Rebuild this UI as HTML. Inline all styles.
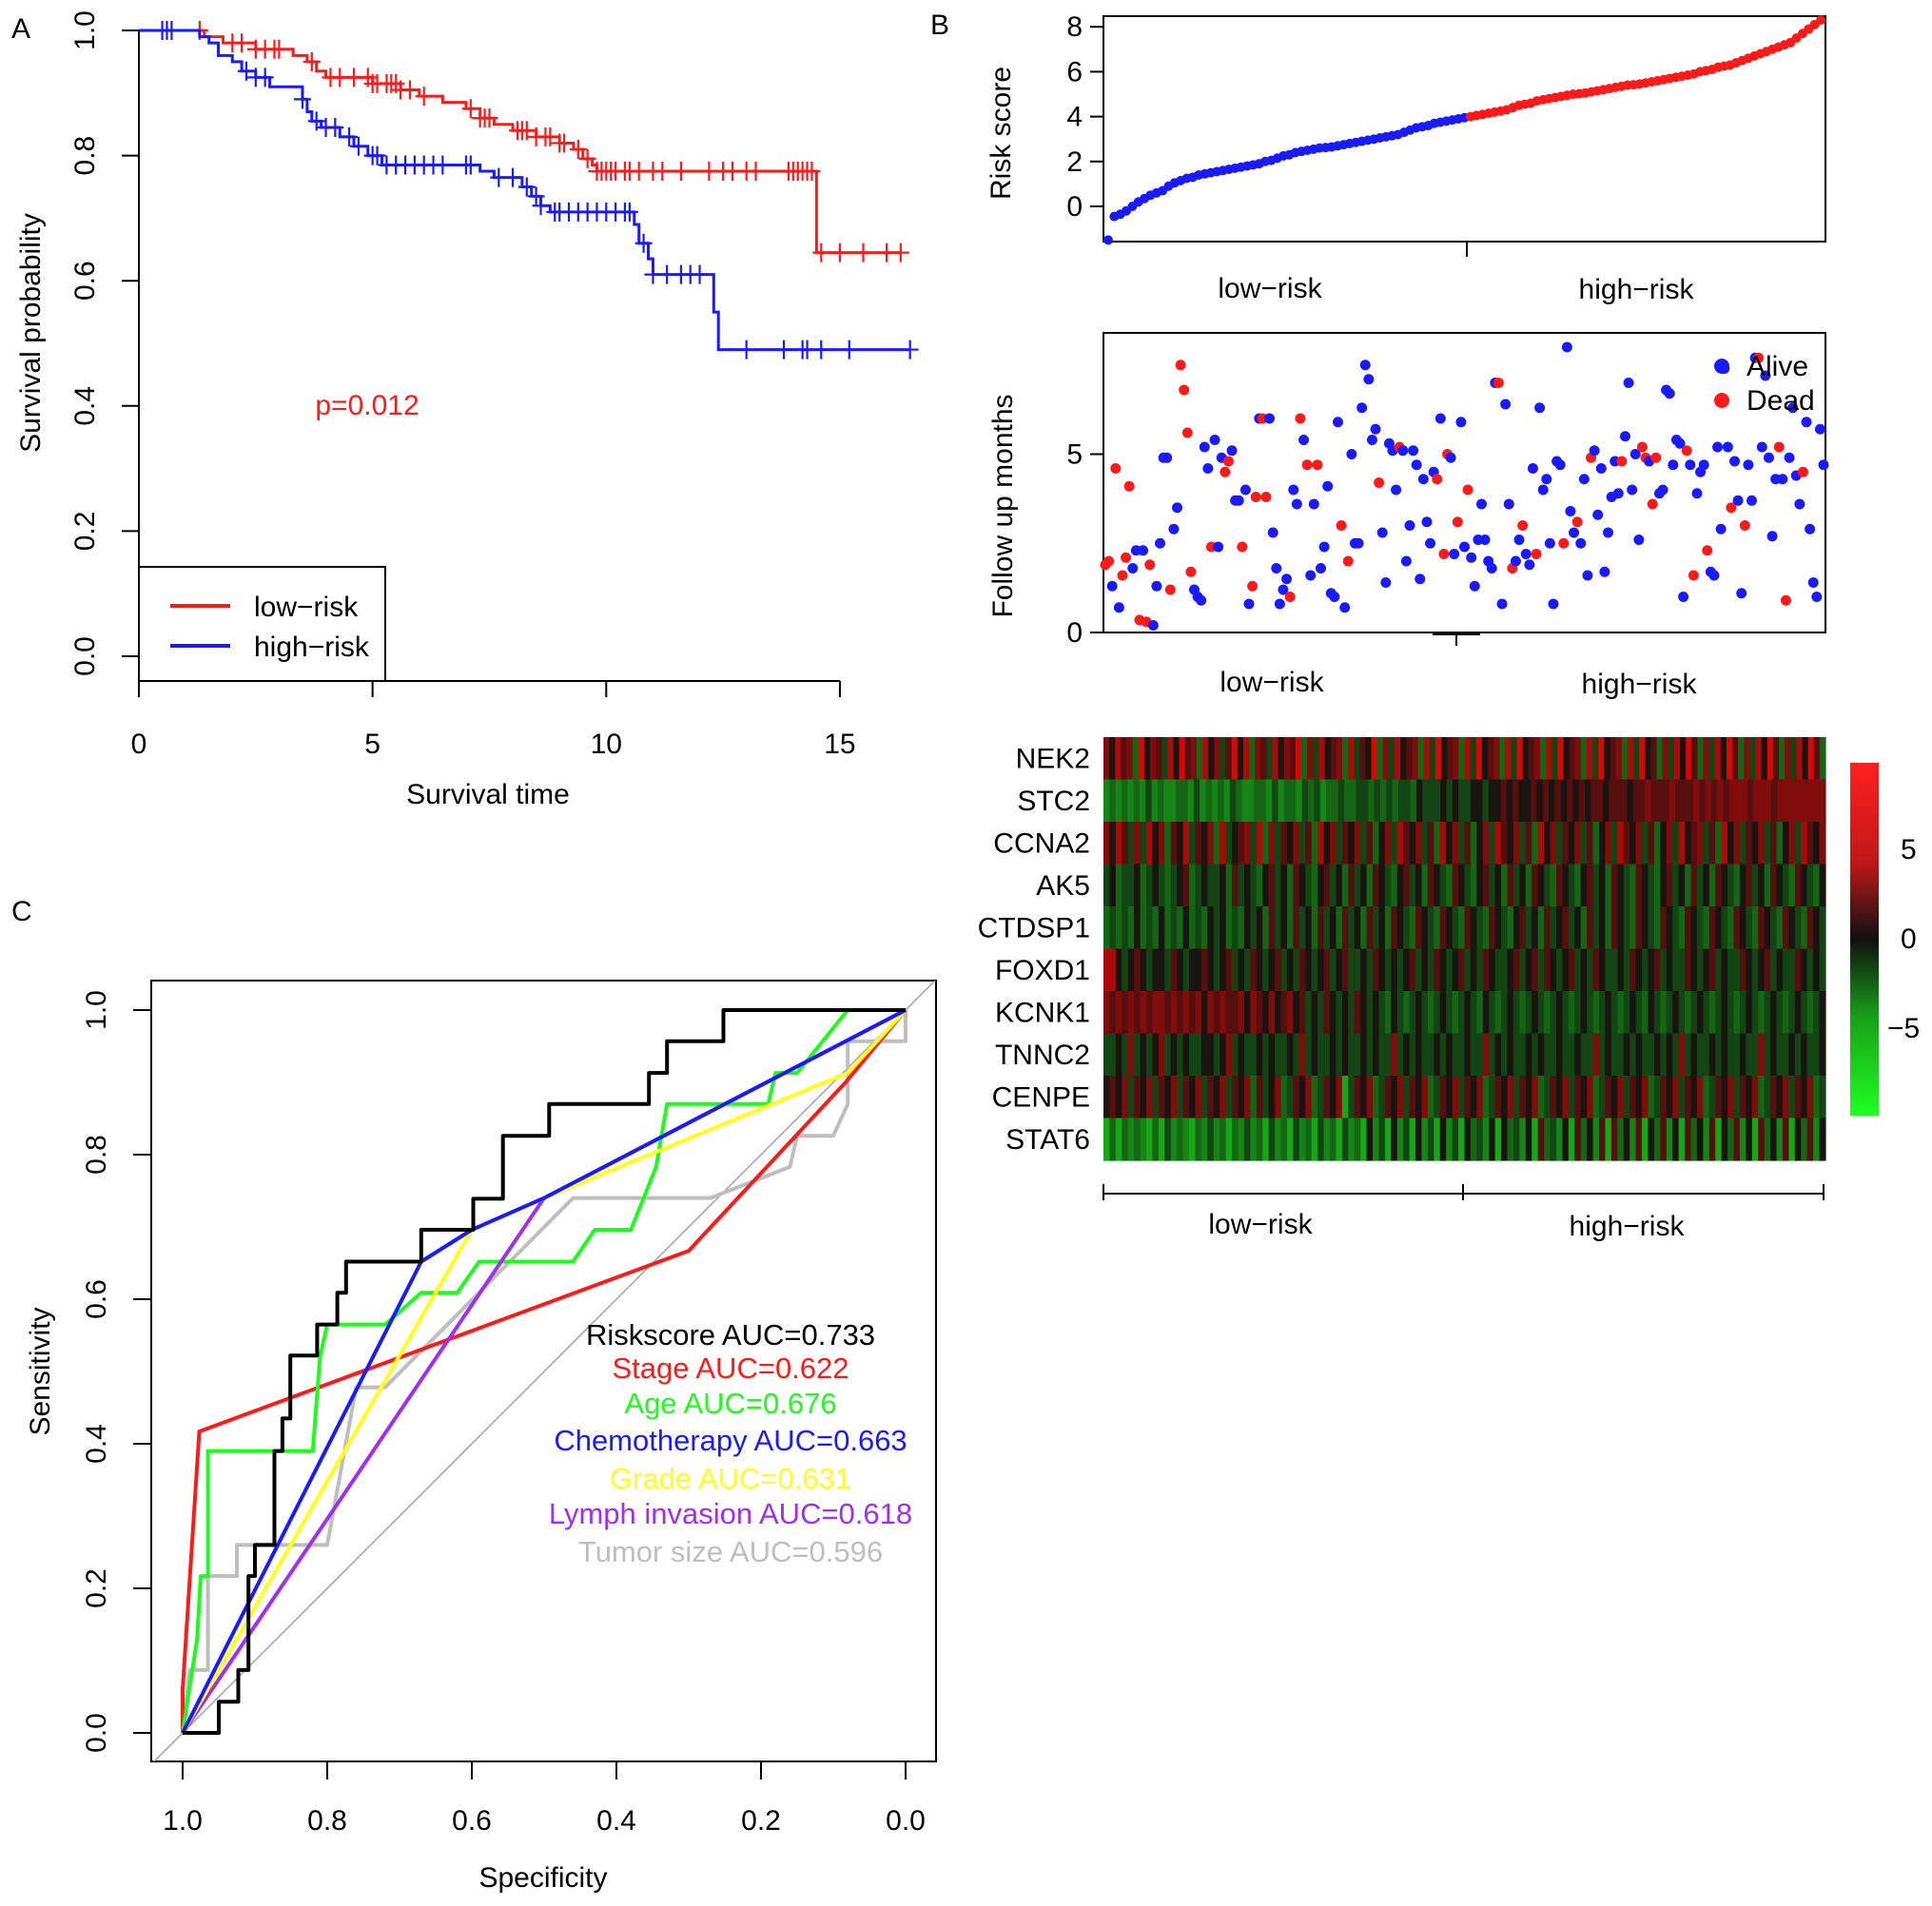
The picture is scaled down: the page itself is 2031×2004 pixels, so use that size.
<!DOCTYPE html>
<html><head><meta charset="utf-8">
<style>
html,body{margin:0;padding:0;background:#fff}
svg{display:block;font-family:"Liberation Sans",Arial,sans-serif}
</style></head>
<body>
<svg id="fig" width="2031" height="2004" viewBox="0 0 2031 2004" xmlns="http://www.w3.org/2000/svg">
<rect width="2031" height="2004" fill="#fff"/>
<g id="A"></g>
<g id="B1"></g>
<g id="B2"></g>
<g id="B3"></g>
<g id="C"></g>
</svg>
<script>
// ---------- Panel A data ----------
const redSteps = [[0,1],[1.4,0.99],[1.8,0.98],[2.5,0.97],[3.3,0.96],[3.6,0.95],[3.8,0.935],[4.0,0.925],[5.0,0.915],[5.6,0.905],[6.0,0.895],[6.5,0.885],[7.0,0.875],[7.3,0.86],[7.6,0.85],[8.0,0.84],[8.5,0.83],[9.0,0.82],[9.3,0.81],[9.5,0.795],[9.7,0.785],[9.8,0.775],[14.5,0.645]];
const redEnd = 16.3;
const blueSteps = [[0,1],[1.3,0.99],[1.5,0.98],[1.7,0.96],[2.0,0.95],[2.2,0.935],[2.5,0.925],[2.8,0.91],[3.5,0.89],[3.6,0.87],[3.7,0.855],[3.9,0.845],[4.3,0.83],[4.6,0.815],[4.9,0.8],[5.2,0.785],[7.3,0.775],[7.6,0.765],[8.2,0.75],[8.4,0.735],[8.6,0.72],[8.8,0.71],[10.6,0.69],[10.7,0.66],[10.9,0.635],[11.0,0.61],[12.3,0.55],[12.4,0.49]];
const blueEnd = 16.5;
const redCensor = [1.3,2.0,2.2,2.5,2.7,2.9,3.0,3.7,4.1,4.3,4.6,4.9,5.0,5.1,5.3,5.4,5.5,5.6,5.8,6.1,7.1,7.3,7.4,7.5,8.1,8.2,8.3,8.5,8.7,8.8,9.0,9.1,9.4,9.6,9.8,9.9,10.0,10.1,10.2,10.4,10.5,10.7,11.0,11.2,11.6,12.2,12.5,12.7,13.0,13.2,13.9,14.0,14.1,14.2,14.3,14.4,14.6,15.0,15.5,16.0,16.3];
const blueCensor = [0.5,0.6,0.7,2.3,2.5,2.7,3.5,3.8,4.0,4.2,4.5,4.7,5.0,5.1,5.3,5.5,5.7,5.9,6.1,6.3,6.5,7.0,7.1,7.7,8.0,8.3,8.5,8.6,8.9,9.0,9.2,9.4,9.6,9.8,10.0,10.2,10.4,10.5,10.8,11.0,11.3,11.6,11.8,12.0,13.0,13.8,14.2,14.3,14.6,15.2,16.5];
const kmXTicks = [0,5,10,15];
const kmYTicks = [0,0.2,0.4,0.6,0.8,1.0];

// ---------- Panel B data ----------
const riskScores = [-1.5,-0.45,-0.35,-0.2,0,0.2,0.35,0.5,0.6,0.7,0.9,1.05,1.15,1.25,1.3,1.4,1.45,1.5,1.55,1.6,1.65,1.7,1.75,1.8,1.85,1.9,2.0,2.05,2.15,2.25,2.3,2.4,2.45,2.5,2.55,2.6,2.62,2.65,2.7,2.75,2.8,2.85,2.9,2.95,3.0,3.05,3.1,3.15,3.2,3.3,3.4,3.5,3.55,3.6,3.7,3.75,3.8,3.85,3.9,3.95,4.0,4.05,4.1,4.15,4.2,4.25,4.3,4.4,4.5,4.55,4.6,4.7,4.75,4.8,4.85,4.9,4.95,5.0,5.02,5.05,5.1,5.15,5.2,5.25,5.3,5.35,5.4,5.42,5.45,5.5,5.55,5.6,5.65,5.7,5.75,5.8,5.85,5.9,6.0,6.05,6.1,6.2,6.25,6.3,6.4,6.5,6.6,6.7,6.8,6.9,7.0,7.1,7.2,7.3,7.5,7.7,7.9,8.1,8.3];
const riskTicks = [0,2,4,6,8];
const followUp = [1.9,2.0,1.3,4.6,0.7,1.6,2.1,4.1,1.8,2.3,0.35,2.3,0.3,1.9,0.2,1.3,2.5,4.9,4.9,1.2,2.9,3.5,7.5,6.8,5.6,1.7,1.2,1.0,0.9,5.2,4.6,2.4,5.4,2.4,4.9,4.5,4.8,5.1,3.7,3.7,2.4,4.0,0.8,1.3,3.8,6.0,6.0,3.8,6.0,2.8,1.8,0.8,1.2,1.5,1.0,4.0,3.6,6.0,5.4,4.7,1.6,3.6,4.7,1.8,2.4,4.1,1.1,1.0,5.9,3.0,0.7,2.0,5.0,2.5,2.5,6.3,7.5,7.1,5.4,5.7,4.2,2.8,1.4,5.3,5.1,4.0,5.2,5.1,2.0,3.0,5.1,4.7,1.5,4.3,3.1,2.5,4.5,4.3,6.0,2.2,5.0,4.9,2.2,3.1,5.9,2.4,4.0,2.1,1.3,2.6,3.6,2.6,2.0,1.8,7.0,7.0,0.8,6.4,3.6,1.8,2.0,2.6,3.0,2.2,1.9,4.6,2.2,6.3,4.0,4.3,2.5,0.8,4.8,4.7,2.5,8.0,3.4,2.8,3.1,2.5,4.3,1.6,4.9,5.1,3.3,4.6,1.7,2.8,3.8,4.8,3.9,4.8,5.5,7.0,4.0,5.0,2.6,5.2,4.9,4.8,3.6,4.9,3.9,4.0,6.8,6.7,4.7,5.4,5.3,1.0,5.1,4.7,1.6,3.9,4.5,4.7,2.3,1.7,1.6,5.2,2.9,7.4,5.2,3.5,4.8,3.7,1.1,3.0,4.7,3.7,7.7,7.7,5.2,7.2,4.9,2.7,4.3,5.2,4.3,0.9,4.9,6.3,4.4,3.6,4.5,5.9,2.9,1.4,1.0,5.7,4.7];
const deadFlags = "1101011100101100000100111100000100011000100110110000001001010010000001010000000010000010000000000101100100100000000100010010001000000010001000100000000100000110110000000010100010000001000100010000010100001000000100000001010001";
const followTicks = [0,5];
const genes = ["NEK2","STC2","CCNA2","AK5","CTDSP1","FOXD1","KCNK1","TNNC2","CENPE","STAT6"];
const heatRows = [
"7586739576485967385746958376485769374856738465937485673849567384956738495673849567384956738495637485963748596374859637485963",
"232323242322332423232432233242332434233433443434344354445454455455656556565656565665666566766676667676767776777677777777",
"7586474857365846573845674837465746385746574635748657463857463574865746385746574635748657463574856746385746574635748657",
"4534453454345634544536454356453654356453645365435645365436543564536453654365435645365436543564536453654356453654365435",
"3434353435343534354534354536453645364536453645365436543654365436543564536456453645365436543654365436543654365436543654",
"8854565455465455654564546545645465456456445465454564546545645465445645646545645465445465456454465456454465456454465454",
"7676767677676767576766757657567564546545465454354345434543454354345434543454345434543454354345434543454345434543454345",
"4454745457454544554574544545445474544545445454474545445454454474545445454454454474544545445454745445454454474544545445",
"5657465746574657465746573645734657346571465734657465734657465734657465734657465734657465734657465734657465734657465734",
"1313232131423213242313242314231423142314231524152415241524153425153425163425163526163526153625163526153625163526153625"];
const colorbarTicks = [5,0,-5];

// ---------- Panel C data ----------
const rocNames = ["Riskscore","Stage","Age","Chemotherapy","Grade","Lymph invasion","Tumor size"];
const rocAUC = ["0.733","0.622","0.676","0.663","0.631","0.618","0.596"];
const rocColors = ["#000000","#ff1a1a","#1aff1a","#1a1aff","#ffff1a","#a02ff0","#bebebe"];
const rocRisk = [[1,0],[0.95,0],[0.95,0.043],[0.923,0.043],[0.923,0.087],[0.909,0.087],[0.909,0.217],[0.9,0.217],[0.9,0.26],[0.873,0.26],[0.873,0.39],[0.862,0.39],[0.862,0.435],[0.851,0.435],[0.851,0.522],[0.814,0.522],[0.814,0.565],[0.786,0.565],[0.786,0.609],[0.774,0.609],[0.774,0.652],[0.67,0.652],[0.67,0.696],[0.598,0.696],[0.598,0.739],[0.557,0.739],[0.557,0.826],[0.493,0.826],[0.493,0.87],[0.355,0.87],[0.355,0.913],[0.33,0.913],[0.33,0.957],[0.252,0.957],[0.252,1],[0,1]];
const rocStage = [[1,0],[1,0.06],[0.977,0.417],[0.3,0.667],[0.083,0.9],[0,1]];
const rocAge = [[1,0],[0.98,0.13],[0.975,0.217],[0.965,0.217],[0.965,0.39],[0.82,0.39],[0.81,0.52],[0.8,0.565],[0.72,0.565],[0.67,0.609],[0.62,0.609],[0.59,0.652],[0.46,0.652],[0.43,0.696],[0.38,0.696],[0.345,0.783],[0.33,0.87],[0.19,0.87],[0.18,0.913],[0.15,0.913],[0.08,1],[0,1]];
const rocChemo = [[1,0],[0.67,0.652],[0.6,0.696],[0.5,0.74],[0,1]];
const rocGrade = [[1,0],[0.6,0.696],[0.5,0.74],[0.08,0.913],[0,1]];
const rocLymph = [[1,0],[0.5,0.74],[0,1]];
const rocTumor = [[1,0],[0.99,0.087],[0.965,0.087],[0.965,0.217],[0.925,0.217],[0.925,0.26],[0.8,0.26],[0.76,0.478],[0.72,0.478],[0.46,0.74],[0.27,0.74],[0.16,0.783],[0.15,0.826],[0.1,0.826],[0.08,0.87],[0.08,0.957],[0,0.957],[0,1]];
const rocTicks = [0,0.2,0.4,0.6,0.8,1.0];

// ---------- helpers ----------
const NS = "http://www.w3.org/2000/svg";
function mk(parent, tag, attrs, text){
  const e = document.createElementNS(NS, tag);
  for (const k in attrs) e.setAttribute(k, attrs[k]);
  if (text !== undefined) e.textContent = text;
  parent.appendChild(e); return e;
}
const FS = 30;

// ---------- Panel A ----------
(function(){
  const g = document.getElementById('A');
  const x = t => 146 + t*49.13;
  const y = s => 690 - s*658;
  let t = mk(g,'text',{x:12,y:40,'font-size':30},'A');
  
  
  let ax = mk(g,'line',{x1:146,y1:y(0),x2:146,y2:y(1),stroke:'#000','stroke-width':2});
  
  
  kmYTicks.forEach(v=>{
    mk(g,'line',{x1:128,y1:y(v),x2:146,y2:y(v),stroke:'#000','stroke-width':2});
    const l = mk(g,'text',{x:0,y:0,'font-size':FS,'text-anchor':'middle',transform:`translate(99,${y(v)}) rotate(-90)`},v.toFixed(1));
    
    
  });
  let bx = mk(g,'line',{x1:x(0),y1:716,x2:x(15),y2:716,stroke:'#000','stroke-width':2});
  
  
  kmXTicks.forEach(v=>{
    mk(g,'line',{x1:x(v),y1:716,x2:x(v),y2:733,stroke:'#000','stroke-width':2});
    const l = mk(g,'text',{x:x(v),y:792,'font-size':FS,'text-anchor':'middle'},String(v));
    
    
  });
  t = mk(g,'text',{x:513,y:845,'font-size':FS,'text-anchor':'middle'},'Survival time');
  
  
  t = mk(g,'text',{x:0,y:0,'font-size':FS,'text-anchor':'middle',transform:'translate(42,350) rotate(-90)'},'Survival probability');
  
  
  function curve(steps,end,color,name,cens){
    let d = `M${x(steps[0][0])},${y(steps[0][1])}`;
    for (let i=1;i<steps.length;i++){ d += `H${x(steps[i][0])}V${y(steps[i][1])}`; }
    d += `H${x(end)}`;
    const p = mk(g,'path',{d:d,fill:'none',stroke:color,'stroke-width':3});
    
    
    const sv = tt => { let s=1; steps.forEach(st=>{ if (st[0]<=tt) s=st[1]; }); return s; };
    cens.forEach(c=>{
      const cx = x(c), cy = y(sv(c));
      const m = mk(g,'path',{d:`M${cx},${cy-10}V${cy+10}M${cx-9},${cy}H${cx+9}`,stroke:color,'stroke-width':2.2});
      
      
    });
  }
  curve(redSteps,redEnd,'#ff1a1a','low-risk-curve',redCensor);
  curve(blueSteps,blueEnd,'#1a1aff','high-risk-curve',blueCensor);
  t = mk(g,'text',{x:386,y:436,'font-size':FS,'text-anchor':'middle',fill:'#ff1a1a'},'p=0.012');
  
  
  const lg = mk(g,'g',{});
  
  
  mk(lg,'rect',{x:146,y:596,width:259,height:120,fill:'none',stroke:'#000','stroke-width':2});
  mk(lg,'line',{x1:179,y1:637,x2:242,y2:637,stroke:'#ff1a1a','stroke-width':4});
  mk(lg,'text',{x:267,y:648,'font-size':FS},'low\u2212risk');
  mk(lg,'line',{x1:179,y1:679,x2:242,y2:679,stroke:'#1a1aff','stroke-width':4});
  mk(lg,'text',{x:267,y:690,'font-size':FS},'high\u2212risk');
})();

// ---------- Panel B1 risk score ----------
(function(){
  const g = document.getElementById('B1');
  const L=1160,R=1919,T=17,Bt=254;
  const n = riskScores.length;
  const x = i => L+5 + i*(R-L-10)/(n-1);
  const y = v => 217 - v*23.6;
  let t = mk(g,'text',{x:978,y:36,'font-size':30},'B');
  
  
  const fr = mk(g,'rect',{x:L,y:T,width:R-L,height:Bt-T,fill:'none',stroke:'#000','stroke-width':2});
  
  
  riskTicks.forEach(v=>{
    mk(g,'line',{x1:L-14,y1:y(v),x2:L,y2:y(v),stroke:'#000','stroke-width':2});
    const l = mk(g,'text',{x:L-22,y:y(v)+10,'font-size':FS,'text-anchor':'end'},String(v));
    
    
  });
  t = mk(g,'text',{x:0,y:0,'font-size':FS,'text-anchor':'middle',transform:'translate(1062,140) rotate(-90)'},'Risk score');
  
  
  riskScores.forEach((v,i)=>{
    const c = mk(g,'circle',{cx:x(i),cy:y(v),r:5,fill:i<n/2?'#1a1aff':'#ff1a1a'});
    
    
  });
  mk(g,'line',{x1:1542,y1:Bt,x2:1542,y2:Bt+16,stroke:'#000','stroke-width':2});
  t = mk(g,'text',{x:1335,y:313,'font-size':FS,'text-anchor':'middle'},'low\u2212risk');
   
  t = mk(g,'text',{x:1720,y:314,'font-size':FS,'text-anchor':'middle'},'high\u2212risk');
   
})();

// ---------- Panel B2 follow up ----------
(function(){
  const g = document.getElementById('B2');
  const L=1160,R=1919,T=350,Bt=665;
  const n = followUp.length;
  const x = i => L+2 + i*(R-L-4)/(n-1);
  const y = v => Bt - v*37.5;
  const fr = mk(g,'rect',{x:L,y:T,width:R-L,height:Bt-T,fill:'none',stroke:'#000','stroke-width':2});
  
  
  followTicks.forEach(v=>{
    mk(g,'line',{x1:L-14,y1:y(v),x2:L,y2:y(v),stroke:'#000','stroke-width':2});
    const l = mk(g,'text',{x:L-22,y:y(v)+10,'font-size':FS,'text-anchor':'end'},String(v));
    
    
  });
  let t = mk(g,'text',{x:0,y:0,'font-size':FS,'text-anchor':'middle',transform:'translate(1064,532) rotate(-90)'},'Follow up months');
  
  
  followUp.forEach((v,i)=>{
    const dead = deadFlags[i]==='1';
    const c = mk(g,'circle',{cx:x(i),cy:y(v),r:5.5,fill:dead?'#ff1a1a':'#1a1aff'});
    
    
  });
  mk(g,'line',{x1:1506,y1:Bt+2,x2:1556,y2:Bt+2,stroke:'#000','stroke-width':2});
  mk(g,'line',{x1:1531,y1:Bt,x2:1531,y2:Bt+14,stroke:'#000','stroke-width':2});
  const lg = mk(g,'g',{});
  
  
  mk(lg,'circle',{cx:1810,cy:385,r:8,fill:'#1a1aff'});
  mk(lg,'text',{x:1836,y:395,'font-size':FS},'Alive');
  mk(lg,'circle',{cx:1810,cy:421,r:8,fill:'#ff1a1a'});
  mk(lg,'text',{x:1836,y:431,'font-size':FS},'Dead');
  t = mk(g,'text',{x:1337,y:727,'font-size':FS,'text-anchor':'middle'},'low\u2212risk');
   
  t = mk(g,'text',{x:1723,y:729,'font-size':FS,'text-anchor':'middle'},'high\u2212risk');
   
})();

// ---------- Panel B3 heatmap ----------
(function(){
  const g = document.getElementById('B3');
  const L=1160,R=1919,T=775,Bt=1220;
  const rh = (Bt-T)/genes.length;
  function col(v){
    if (v>0) return `rgb(${Math.round(45+v*42)},${Math.round(16-v*2)},${Math.round(16-v*2)})`;
    if (v<0) return `rgb(${Math.round(18-v*1)},${Math.round(35-v*33)},${Math.round(18-v*1)})`;
    return 'rgb(26,20,16)';
  }
  genes.forEach((gn,r)=>{
    const s = heatRows[r]; const cw = (R-L)/s.length;
    for (let i=0;i<s.length;i++){
      const v = parseInt(s[i],10)-5;
      const c = mk(g,'rect',{x:(L+i*cw).toFixed(2),y:(T+r*rh).toFixed(2),width:(cw+0.6).toFixed(2),height:(rh+0.6).toFixed(2),fill:col(v)});
      
      
    }
    const l = mk(g,'text',{x:1146,y:T+r*rh+rh/2+10,'font-size':FS,'text-anchor':'end'},gn);
    
    
  });
  const defs = mk(g,'defs',{});
  const lgd = mk(defs,'linearGradient',{id:'cb',x1:0,y1:0,x2:0,y2:1});
  mk(lgd,'stop',{offset:'0','stop-color':'#ff2020'});
  mk(lgd,'stop',{offset:'0.28','stop-color':'#c01818'});
  mk(lgd,'stop',{offset:'0.5','stop-color':'#101010'});
  mk(lgd,'stop',{offset:'0.72','stop-color':'#18a018'});
  mk(lgd,'stop',{offset:'1','stop-color':'#20ff20'});
  const cbT=802, cbB=1173;
  const cb = mk(g,'rect',{x:1945,y:cbT,width:30,height:cbB-cbT,fill:'url(#cb)'});
  
  
  const cy = v => 987 - v*18.8;
  colorbarTicks.forEach(v=>{
    const l = mk(g,'text',{x:v<0?1984:1998,y:cy(v)+10,'font-size':FS},v<0?'\u22125':String(v));
    
    
  });
  mk(g,'line',{x1:1160,y1:1255,x2:1917,y2:1255,stroke:'#000','stroke-width':2});
  [1160,1538,1917].forEach(px=>mk(g,'line',{x1:px,y1:1245,x2:px,y2:1262,stroke:'#000','stroke-width':2}));
  let t = mk(g,'text',{x:1325,y:1297,'font-size':FS,'text-anchor':'middle'},'low\u2212risk');
   
  t = mk(g,'text',{x:1710,y:1299,'font-size':FS,'text-anchor':'middle'},'high\u2212risk');
   
})();

// ---------- Panel C ROC ----------
(function(){
  const g = document.getElementById('C');
  const L=159,R=984,T=1031,Bt=1852;
  const x = s => 192 + (1-s)*760;
  const y = v => 1822 - v*760;
  let t = mk(g,'text',{x:12,y:968,'font-size':30},'C');
  
  
  const clip = mk(g,'clipPath',{id:'rocclip'});
  mk(clip,'rect',{x:L,y:T,width:R-L,height:Bt-T});
  const fr = mk(g,'rect',{x:L,y:T,width:R-L,height:Bt-T,fill:'none',stroke:'#000','stroke-width':2});
  
  
  rocTicks.forEach(v=>{
    mk(g,'line',{x1:L-19,y1:y(v),x2:L,y2:y(v),stroke:'#000','stroke-width':2});
    const l = mk(g,'text',{x:0,y:0,'font-size':FS,'text-anchor':'middle',transform:`translate(111,${y(v)}) rotate(-90)`},v.toFixed(1));
    
    
    mk(g,'line',{x1:x(v),y1:Bt,x2:x(v),y2:Bt+19,stroke:'#000','stroke-width':2});
    const k = mk(g,'text',{x:x(v),y:1924,'font-size':FS,'text-anchor':'middle'},v.toFixed(1));
    
    
  });
  t = mk(g,'text',{x:571,y:1984,'font-size':FS,'text-anchor':'middle'},'Specificity');
   
  t = mk(g,'text',{x:0,y:0,'font-size':FS,'text-anchor':'middle',transform:'translate(52,1442) rotate(-90)'},'Sensitivity');
   
  const dg = mk(g,'line',{x1:x(1.1),y1:y(-0.1),x2:x(-0.1),y2:y(1.1),stroke:'#a0a0a0','stroke-width':1.5,'clip-path':'url(#rocclip)'});
  
  
  const curves = [rocRisk,rocStage,rocAge,rocChemo,rocGrade,rocLymph,rocTumor];
  const order = [6,1,2,5,4,3,0];
  order.forEach(k=>{
    const d = curves[k].map((p,i)=>(i?'L':'M')+x(p[0]).toFixed(1)+','+y(p[1]).toFixed(1)).join('');
    const p = mk(g,'path',{d:d,fill:'none',stroke:rocColors[k],'stroke-width':4,'stroke-linejoin':'round'});
    
    
  });
  const lg = mk(g,'g',{});
  
  
  const ly = [1414,1449,1486,1525,1565,1602,1642];
  rocNames.forEach((nm,k)=>{
    mk(lg,'text',{x:768,y:ly[k],'font-size':31,'text-anchor':'middle',fill:rocColors[k]},nm+' AUC='+rocAUC[k]);
  });
})();
</script>
</body></html>
